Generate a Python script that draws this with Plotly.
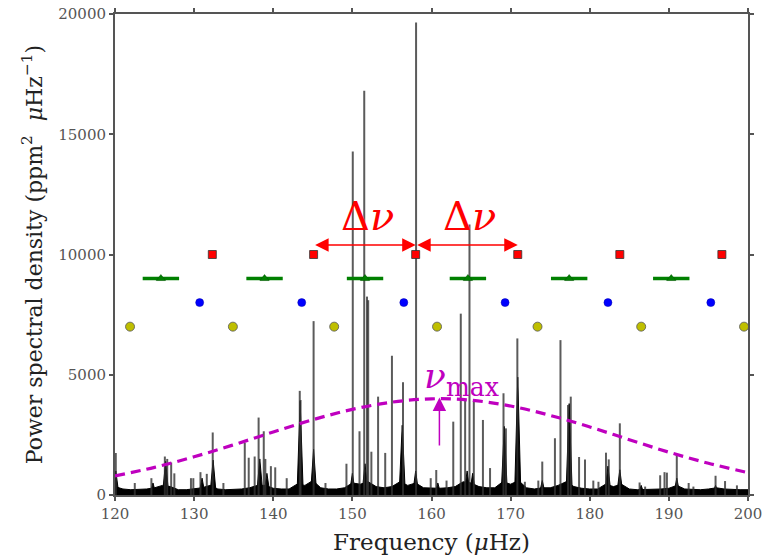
import plotly.graph_objects as go

# ---- data ----
peak_freq = [120.1, 122.5, 124.6, 126.3, 126.6, 127.1, 127.5, 129.6, 129.9, 130.8, 131.6,
             132.35, 133.7, 136.4, 136.9, 137.65, 138.15, 138.8, 139.0, 139.7, 140.25, 141.7,
             143.35, 143.45, 145.1, 146.6, 149.25, 150.05, 150.9, 151.5, 151.85, 152.0, 152.4,
             153.25, 154.15, 155.0, 156.4, 158.05, 159.9, 160.6, 161.9, 162.75, 163.7, 164.25,
             164.8, 165.35, 166.5, 167.4, 169.1, 169.4, 170.85, 171.8, 173.5, 174.0, 175.6, 176.3,
             177.25, 177.6, 178.65, 179.4, 180.45, 181.1, 182.05, 182.4, 183.8, 186.3, 187.0,
             188.9, 189.45, 189.75, 191.0, 192.5, 193.1, 195.9, 197.1, 198.6]
peak_power = [1750, 500, 700, 1600, 1500, 1350, 900, 700, 700, 950, 880,
              2600, 500, 2170, 1550, 1600, 3220, 2650, 1500, 1200, 1150, 700,
              4330, 3950, 7230, 500, 1300, 14280, 2650, 16810, 8250, 8100, 1800,
              4090, 1750, 5790, 4690, 19650, 700, 1040, 600, 3050, 7540, 3950,
              11250, 3900, 3120, 1120, 4230, 2770, 6510, 550, 600, 1390, 2360, 6440,
              3740, 4090, 1580, 1480, 600, 550, 1760, 1480, 2980, 520, 350,
              820, 950, 930, 1680, 500, 350, 800, 580, 400]

cluster_freq = [120.1, 124.8, 126.4, 131.0, 132.4, 138.3, 139.2, 143.4, 145.1, 150.0, 151.6,
                156.3, 158.0, 160.8, 164.5, 165.2, 169.2, 170.9, 174.0, 177.4, 182.3, 183.8,
                186.5, 191.0, 195.9]
cluster_power = [1000, 500, 1400, 700, 1450, 1500, 900, 3900, 1900, 900, 1300,
                 2900, 1000, 500, 1000, 900, 2850, 4900, 600, 3800, 1200, 1050,
                 400, 700, 400]

floor_freq = list(range(120, 201))
floor_power = [350, 250, 220, 220, 250, 300, 400, 350, 220, 220,
               250, 300, 400, 250, 220, 220, 250, 300, 400, 400,
               280, 250, 250, 450, 400, 600, 300, 250, 250, 300,
               500, 450, 550, 350, 300, 350, 550, 400, 500, 300,
               280, 280, 300, 350, 550, 500, 350, 300, 300, 550,
               450, 600, 300, 250, 300, 300, 400, 550, 350, 280,
               250, 250, 450, 350, 450, 250, 220, 220, 220, 250,
               280, 400, 250, 220, 220, 250, 300, 250, 220, 220, 220]

env_freq = [120, 125, 130, 135, 140, 145, 150, 155, 160, 165, 170, 175, 180, 185, 190, 195, 200]
env_power = [790, 1150, 1590, 2090, 2620, 3130, 3560, 3860, 4000, 3940, 3700, 3310, 2830, 2300, 1780, 1320, 930]

l0_freq = [132.3, 145.1, 158.0, 170.9, 183.8, 196.7]   # red squares
l1_freq = [125.8, 138.9, 151.6, 164.6, 177.4, 190.3]   # green triangles
l1_err = [2.3, 2.3, 2.3, 2.3, 2.3, 2.3]
l2_freq = [130.7, 143.6, 156.5, 169.3, 182.3, 195.3]   # blue circles
l3_freq = [121.9, 134.9, 147.7, 160.7, 173.4, 186.5, 199.5]  # yellow circles

l0_y, l1_y, l2_y, l3_y = 10000, 9000, 8000, 7000

numax = 161.0
dnu_y = 10400

# ---- build figure ----
fig = go.Figure()

fig.add_trace(go.Scatter(x=floor_freq, y=floor_power, mode="lines",
                         line=dict(color="black", width=1),
                         fill="tozeroy", fillcolor="black", hoverinfo="skip"))

half_w = 0.4
cx, cy = [], []
for f, p in zip(cluster_freq, cluster_power):
    cx += [f - half_w, f, f + half_w, f - half_w, None]
    cy += [0, p, 0, 0, None]
fig.add_trace(go.Scatter(x=cx, y=cy, mode="lines", fill="toself", fillcolor="black",
                         line=dict(color="black", width=1), hoverinfo="skip"))

sx, sy = [], []
for f, p in zip(peak_freq, peak_power):
    sx += [f, f, None]
    sy += [0, p, None]
fig.add_trace(go.Scatter(x=sx, y=sy, mode="lines",
                         line=dict(color="rgba(50,50,50,0.8)", width=2), hoverinfo="skip"))

fig.add_trace(go.Scatter(x=env_freq, y=env_power, mode="lines", line_shape="spline",
                         line=dict(color="#bf00bf", width=3.2, dash="10px,6px")))

fig.add_trace(go.Scatter(x=l0_freq, y=[l0_y] * len(l0_freq), mode="markers",
                         marker=dict(symbol="square", size=8, color="#ff0000",
                                     line=dict(color="#333", width=0.8))))
fig.add_trace(go.Scatter(x=l1_freq, y=[l1_y] * len(l1_freq), mode="markers",
                         error_x=dict(type="data", array=l1_err, color="#008000",
                                      thickness=3.5, width=0),
                         marker=dict(symbol="triangle-up", size=8, color="#008000",
                                     line=dict(color="#005000", width=0.5))))
fig.add_trace(go.Scatter(x=l2_freq, y=[l2_y] * len(l2_freq), mode="markers",
                         marker=dict(symbol="circle", size=8, color="#0000ff",
                                     line=dict(color="#0000aa", width=0.5))))
fig.add_trace(go.Scatter(x=l3_freq, y=[l3_y] * len(l3_freq), mode="markers",
                         marker=dict(symbol="circle", size=9, color="#bfbf00",
                                     line=dict(color="#555", width=0.8))))

annotations = []
for a, b in [(l0_freq[1], l0_freq[2]), (l0_freq[2], l0_freq[3])]:
    annotations.append(dict(x=b, y=dnu_y, ax=a, ay=dnu_y, xref="x", yref="y",
                            axref="x", ayref="y", text="", showarrow=True,
                            arrowside="end+start", arrowhead=2, arrowsize=1.8,
                            arrowwidth=1.5, arrowcolor="#ff0000"))
    annotations.append(dict(x=(a + b) / 2 + 0.3, y=11600, xref="x", yref="y",
                            text="Δ<i>ν</i>", showarrow=False,
                            font=dict(family="DejaVu Serif", size=40, color="#ff0000")))

annotations.append(dict(x=numax, y=4050, ax=numax, ay=2000, xref="x", yref="y",
                        axref="x", ayref="y", text="", showarrow=True,
                        arrowhead=2, arrowsize=1.8, arrowwidth=1.5, arrowcolor="#bf00bf"))
annotations.append(dict(x=158.8, y=4850, xref="x", yref="y", xanchor="left",
                        text="<i>ν</i><sub>max</sub>", showarrow=False,
                        font=dict(family="DejaVu Serif", size=36, color="#bf00bf")))

axis_common = dict(showgrid=False, zeroline=False, showline=True, linecolor="#555",
                   linewidth=2, mirror="ticks", ticks="outside", ticklen=4,
                   tickwidth=1.5, tickcolor="#555", automargin=False,
                   tickfont=dict(family="DejaVu Serif", size=15, color="#555"))

fig.update_layout(
    width=772, height=557,
    margin=dict(l=115, r=24, t=14, b=62),
    paper_bgcolor="white", plot_bgcolor="white",
    showlegend=False,
    annotations=annotations,
    xaxis=dict(range=[120, 200], dtick=10, tick0=120,
               title=dict(text="Frequency (<i>μ</i>Hz)", standoff=12,
                          font=dict(family="DejaVu Serif", size=23, color="#222")),
               **axis_common),
    yaxis=dict(range=[0, 20000], dtick=5000, tickformat="d",
               title=dict(text="Power spectral density (ppm<sup>2</sup>  <i>μ</i>Hz<sup>−1</sup>)",
                          standoff=10,
                          font=dict(family="DejaVu Serif", size=22, color="#222")),
               **axis_common),
)

fig.write_html("out.html")
